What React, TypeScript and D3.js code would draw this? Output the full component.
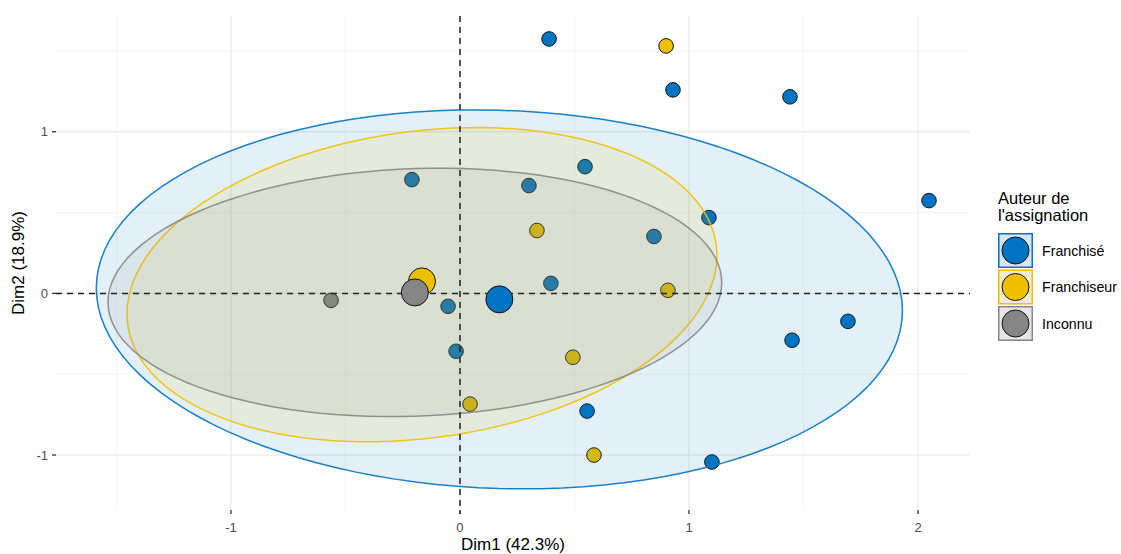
import React from "react";
import * as d3 from "d3";

const groups = ["Franchisé", "Franchiseur", "Inconnu"];
const groupColors = ["#0073C2", "#EFC000", "#868686"];

// individual points
const franchiseX = [0.389, 0.930, 1.441, 2.048, -0.210, 0.546, 0.301, 1.087, 0.847, 0.397, -0.052, -0.017, 0.555, 1.450, 1.694, 1.100];
const franchiseY = [1.574, 1.259, 1.216, 0.574, 0.704, 0.784, 0.667, 0.469, 0.352, 0.062, -0.080, -0.358, -0.728, -0.290, -0.173, -1.043];
const franchiseurX = [0.900, 0.336, 0.908, 0.493, 0.044, 0.585];
const franchiseurY = [1.531, 0.389, 0.019, -0.395, -0.685, -1.000];
const inconnuX = [-0.563];
const inconnuY = [-0.043];

// group means
const meanX = [0.172, -0.166, -0.197];
const meanY = [-0.037, 0.074, 0.006];

// ellipse parameters (data units): centre offset, horizontal radius, vertical radius, shear
const ellDy = [0, -0.02, 0];
const ellRx = [1.76, 1.288, 1.34];
const ellRy = [1.17, 0.955, 0.766];
const ellK = [-0.07, 0.18, 0.06];

const xTicks = [-1, 0, 1, 2];
const xMinor = [-1.5, -0.5, 0.5, 1.5];
const yTicks = [-1, 0, 1];
const yMinor = [-0.5, 0.5, 1.5];

const xDomain = [-1.764, 2.227];
const yDomain = [-1.34, 1.716];

export default function App() {
  const W = 1121, H = 554;
  const left = 56, right = 970, top = 16, bottom = 510;
  const x = d3.scaleLinear().domain(xDomain).range([left, right]);
  const y = d3.scaleLinear().domain(yDomain).range([bottom, top]);

  const indiv = [
    { g: 0, xs: franchiseX, ys: franchiseY },
    { g: 1, xs: franchiseurX, ys: franchiseurY },
    { g: 2, xs: inconnuX, ys: inconnuY },
  ];

  const angles = d3.range(0, 361, 3).map((a) => (a * Math.PI) / 180);
  const line = d3.line<[number, number]>().x((d) => x(d[0])).y((d) => y(d[1]));
  const ellipses = groups.map((_, i) =>
    line(
      angles.map((t) => [
        meanX[i] + ellRx[i] * Math.cos(t),
        meanY[i] + ellDy[i] + ellRy[i] * Math.sin(t) + ellK[i] * Math.cos(t),
      ] as [number, number])
    ) as string
  );

  const font = "'Liberation Sans', Arial, Helvetica, sans-serif";

  return (
    <svg width={W} height={H} style={{ position: "absolute", left: 0, top: 0 }} fontFamily={font}>
      <rect width={W} height={H} fill="#fff" />
      {/* grid */}
      {xMinor.map((v) => (
        <line key={"xm" + v} x1={x(v)} x2={x(v)} y1={top} y2={bottom} stroke="#f1f1f1" strokeWidth={0.8} />
      ))}
      {yMinor.map((v) => (
        <line key={"ym" + v} y1={y(v)} y2={y(v)} x1={left} x2={right} stroke="#f1f1f1" strokeWidth={0.8} />
      ))}
      {xTicks.map((v) => (
        <line key={"xg" + v} x1={x(v)} x2={x(v)} y1={top} y2={bottom} stroke="#ebebeb" strokeWidth={1.3} />
      ))}
      {yTicks.map((v) => (
        <line key={"yg" + v} y1={y(v)} y2={y(v)} x1={left} x2={right} stroke="#ebebeb" strokeWidth={1.3} />
      ))}

      {/* individual points */}
      {indiv.map((s) =>
        s.xs.map((vx, j) => (
          <circle key={s.g + "-" + j} cx={x(vx)} cy={y(s.ys[j])} r={7.3} fill={groupColors[s.g]} stroke="#111" strokeWidth={1} />
        ))
      )}

      {/* ellipses */}
      {ellipses.map((p, i) => (
        <path key={"e" + i} d={p} fill={groupColors[i]} fillOpacity={0.11} stroke={groupColors[i]} strokeOpacity={0.9} strokeWidth={1.5} />
      ))}

      {/* reference lines */}
      <line x1={left} x2={right} y1={y(0)} y2={y(0)} stroke="#222" strokeWidth={1.5} strokeDasharray="6,5" />
      <line x1={x(0)} x2={x(0)} y1={top} y2={bottom + 4} stroke="#222" strokeWidth={1.5} strokeDasharray="6,5" />

      {/* means */}
      {groups.map((_, i) => (
        <circle key={"m" + i} cx={x(meanX[i])} cy={y(meanY[i])} r={13.5} fill={groupColors[i]} stroke="#111" strokeWidth={1} />
      ))}

      {/* axes ticks & labels */}
      {xTicks.map((v) => (
        <g key={"xt" + v}>
          <line x1={x(v)} x2={x(v)} y1={bottom} y2={bottom + 4} stroke="#333" strokeWidth={1.3} />
          <text x={x(v)} y={bottom + 22} textAnchor="middle" fontSize={13} fill="#4d4d4d">
            {v}
          </text>
        </g>
      ))}
      {yTicks.map((v) => (
        <g key={"yt" + v}>
          <line x1={left - 4} x2={left} y1={y(v)} y2={y(v)} stroke="#333" strokeWidth={1.3} />
          <text x={left - 8} y={y(v) + 4.5} textAnchor="end" fontSize={13} fill="#4d4d4d">
            {v}
          </text>
        </g>
      ))}
      <text x={(left + right) / 2} y={550} textAnchor="middle" fontSize={17} fill="#000">
        Dim1 (42.3%)
      </text>
      <text transform={`translate(24,${(top + bottom) / 2}) rotate(-90)`} textAnchor="middle" fontSize={17} fill="#000">
        Dim2 (18.9%)
      </text>

      {/* legend */}
      <text x={998} y={204} fontSize={16.5} fill="#000">Auteur de</text>
      <text x={998} y={221} fontSize={16.5} fill="#000">l'assignation</text>
      {groups.map((gname, i) => {
        const ky = 233 + i * 36.5;
        return (
          <g key={"lg" + i}>
            <rect x={998} y={ky} width={35} height={35} fill="#f2f2f2" />
            <rect x={998.75} y={ky + 0.75} width={33.5} height={33.5} fill={groupColors[i]} fillOpacity={0.11} stroke={groupColors[i]} strokeWidth={1.5} />
            <circle cx={1015.5} cy={ky + 17.5} r={13.5} fill={groupColors[i]} stroke="#111" strokeWidth={1} />
            <text x={1042} y={ky + 22.5} fontSize={14.2} fill="#000">
              {gname}
            </text>
          </g>
        );
      })}
    </svg>
  );
}
